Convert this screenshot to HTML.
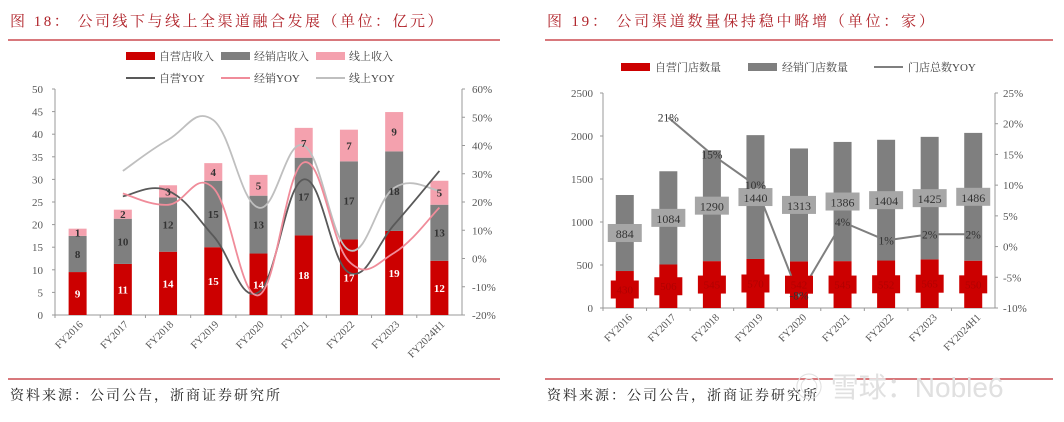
<!DOCTYPE html>
<html><head><meta charset="utf-8"><style>
body{margin:0;background:#fff;}
svg{display:block;font-family:"Liberation Serif","Noto Serif CJK SC",serif;}
</style></head><body>
<svg id="s" width="1064" height="422" viewBox="0 0 1064 422" xmlns="http://www.w3.org/2000/svg">
<text x="10" y="26" font-size="15" fill="#b0232a" letter-spacing="2.5">图 18：  公司线下与线上全渠道融合发展（单位：亿元）</text>
<line x1="8" y1="40" x2="500" y2="40" stroke="#c0272d" stroke-width="1.2"/>
<text x="547" y="26" font-size="15" fill="#b0232a" letter-spacing="2.8">图 19：  公司渠道数量保持稳中略增（单位：家）</text>
<line x1="545" y1="40" x2="1053" y2="40" stroke="#c0272d" stroke-width="1.2"/>
<line x1="8" y1="379" x2="500" y2="379" stroke="#c0272d" stroke-width="1.2"/>
<line x1="545" y1="379" x2="1053" y2="379" stroke="#c0272d" stroke-width="1.2"/>
<text x="10" y="400" font-size="14" fill="#222" letter-spacing="2">资料来源：公司公告，浙商证券研究所</text>
<text x="547" y="400" font-size="14" fill="#222" letter-spacing="2">资料来源：公司公告，浙商证券研究所</text>
<text x="795" y="397" font-size="28" fill="#e0e0e0" font-family="Liberation Sans, Noto Sans CJK SC, sans-serif">◎ 雪球：Noble6</text>
<g id="c1"></g>
<g id="c2"></g>
</svg>
<script>
// ---- chart 1 data ----
const cats1 = ["FY2016","FY2017","FY2018","FY2019","FY2020","FY2021","FY2022","FY2023","FY2024H1"];
const selfRev = [9.5,11.3,14,15,13.6,17.6,16.7,18.6,12];
const distRev = [8,10,12,14.7,12.8,17.2,17.3,17.6,12.4];
const onlineRev = [1.6,2,2.7,3.9,4.6,6.6,7,8.7,5.3];
const selfLbl = ["9","11","14","15","14","18","17","19","12"];
const distLbl = ["8","10","12","15","13","17","17","18","13"];
const onlineLbl = ["1","2","3","4","5","7","7","9","5"];
const selfYoy = [null,22,24,8,-12,28,-5,12,31];
const distYoy = [null,23,19,25,-13,34,-1,2,18];
const onlineYoy = [null,31,42,49,18,40,3,25,24];
const leftTicks1 = [0,5,10,15,20,25,30,35,40,45,50];
const rightTicks1 = [-20,-10,0,10,20,30,40,50,60];
// ---- chart 2 data ----
const cats2 = cats1;
const selfStores = [430,506,545,570,542,545,552,565,550];
const distStores = [884,1084,1290,1440,1313,1386,1404,1425,1486];
const storeYoy = [null,21,15,10,-8,4,1,2,2];
const leftTicks2 = [0,500,1000,1500,2000,2500];
const rightTicks2 = [-10,-5,0,5,10,15,20,25];

const NS="http://www.w3.org/2000/svg";
function mk(parent,tag,attrs,txt){const e=document.createElementNS(NS,tag);for(const k in attrs)e.setAttribute(k,attrs[k]);if(txt!=null)e.textContent=txt;parent.appendChild(e);return e;}
function smoothPath(pts){let d="M"+pts[0][0]+","+pts[0][1];for(let i=0;i<pts.length-1;i++){const p0=pts[i-1]||pts[i],p1=pts[i],p2=pts[i+1],p3=pts[i+2]||p2;const t=0.2;d+=" C"+(p1[0]+(p2[0]-p0[0])*t)+","+(p1[1]+(p2[1]-p0[1])*t)+" "+(p2[0]-(p3[0]-p1[0])*t)+","+(p2[1]-(p3[1]-p1[1])*t)+" "+p2[0]+","+p2[1];}return d;}

// ===== Chart 1 =====
(function(){
const g=document.getElementById('c1');
const x0=55,x1=462,yb=315,yt=89;
const yL=v=>yb-(v/50)*(yb-yt);
const yR=v=>yb-((v+20)/80)*(yb-yt);
const step=(x1-x0)/cats1.length;
const xc=i=>x0+step*(i+0.5);
const bw=18;
const ax=mk(g,'line',{x1:x0,y1:yt,x2:x0,y2:yb,stroke:'#999'});


const ax2=mk(g,'line',{x1:x1,y1:yt,x2:x1,y2:yb,stroke:'#999'});


const axb=mk(g,'line',{x1:x0,y1:yb,x2:x1,y2:yb,stroke:'#999'});


leftTicks1.forEach(v=>{const t=mk(g,'text',{x:x0-12,y:yL(v)+4,'font-size':11,fill:'#555','text-anchor':'end'},v);


mk(g,'line',{x1:x0-3,y1:yL(v),x2:x0,y2:yL(v),stroke:'#999'});});
rightTicks1.forEach(v=>{const t=mk(g,'text',{x:x1+10,y:yR(v)+4,'font-size':11,fill:'#555'},v+'%');


mk(g,'line',{x1:x1,y1:yR(v),x2:x1+3,y2:yR(v),stroke:'#999'});});
cats1.forEach((c,i)=>{
 mk(g,'line',{x1:x0+step*i,y1:yb,x2:x0+step*i,y2:yb+3,stroke:'#999'});
 const t=mk(g,'text',{x:xc(i)+6,y:yb+10,'font-size':10.5,fill:'#555','text-anchor':'end',transform:`rotate(-45 ${xc(i)+6} ${yb+10})`},c);
 
 
 const a=selfRev[i],b=distRev[i],o=onlineRev[i];
 const r1=mk(g,'rect',{x:xc(i)-bw/2,y:yL(a),width:bw,height:yb-yL(a),fill:'#cc0000'});
 
 
 const r2=mk(g,'rect',{x:xc(i)-bw/2,y:yL(a+b),width:bw,height:yL(a)-yL(a+b),fill:'#7f7f7f'});
 
 
 const r3=mk(g,'rect',{x:xc(i)-bw/2,y:yL(a+b+o),width:bw,height:yL(a+b)-yL(a+b+o),fill:'#f4a1ae'});
 
 
});
[[onlineYoy,'#bfbfbf','line-online-yoy'],[selfYoy,'#595959','line-self-yoy'],[distYoy,'#f08c9a','line-distributor-yoy']].forEach(([arr,col,nm])=>{
 const pts=[];arr.forEach((v,i)=>{if(v!=null)pts.push([xc(i),yR(v)]);});
 const p=mk(g,'path',{d:smoothPath(pts),fill:'none',stroke:col,'stroke-width':1.8});
 
 
});
cats1.forEach((c,i)=>{
 const a=selfRev[i],b=distRev[i],o=onlineRev[i];
 const l1=mk(g,'text',{x:xc(i),y:(yL(0)+yL(a))/2+4,'font-size':11,'font-weight':'bold',fill:'#fff','text-anchor':'middle'},selfLbl[i]);
 
 
 const l2=mk(g,'text',{x:xc(i),y:(yL(a)+yL(a+b))/2+4,'font-size':11,'font-weight':'bold',fill:'#333','text-anchor':'middle'},distLbl[i]);
 
 
 const l3=mk(g,'text',{x:xc(i),y:(yL(a+b)+yL(a+b+o))/2+4,'font-size':11,'font-weight':'bold',fill:'#333','text-anchor':'middle'},onlineLbl[i]);
 
 
});
const L=[[126,56,'rect','#cc0000','自营店收入'],[221,56,'rect','#7f7f7f','经销店收入'],[316,56,'rect','#f4a1ae','线上收入'],[126,78,'line','#595959','自营YOY'],[221,78,'line','#f08c9a','经销YOY'],[316,78,'line','#bfbfbf','线上YOY']];
L.forEach(([x,y,t,c,s])=>{
 const e=mk(g,'g',{});
 
 
 if(t==='rect')mk(e,'rect',{x:x,y:y-4,width:29,height:8,fill:c});else mk(e,'line',{x1:x,y1:y,x2:x+29,y2:y,stroke:c,'stroke-width':2});
 mk(e,'text',{x:x+33,y:y+4,'font-size':11,fill:'#444'},s);
});
})();

// ===== Chart 2 =====
(function(){
const g=document.getElementById('c2');
const x0=603,x1=995,yb=308,yt=93;
const yL=v=>yb-(v/2500)*(yb-yt);
const yR=v=>yb-((v+10)/35)*(yb-yt);
const step=(x1-x0)/cats2.length;
const xc=i=>x0+step*(i+0.5);
const bw=18;
const ax=mk(g,'line',{x1:x0,y1:yt,x2:x0,y2:yb,stroke:'#999'});


const ax2=mk(g,'line',{x1:x1,y1:yt,x2:x1,y2:yb,stroke:'#999'});


const axb=mk(g,'line',{x1:x0,y1:yb,x2:x1,y2:yb,stroke:'#999'});


leftTicks2.forEach(v=>{const t=mk(g,'text',{x:x0-10,y:yL(v)+4,'font-size':11,fill:'#555','text-anchor':'end'},v);


mk(g,'line',{x1:x0-3,y1:yL(v),x2:x0,y2:yL(v),stroke:'#999'});});
rightTicks2.forEach(v=>{const t=mk(g,'text',{x:x1+8,y:yR(v)+4,'font-size':11,fill:'#555'},v+'%');


mk(g,'line',{x1:x1,y1:yR(v),x2:x1+3,y2:yR(v),stroke:'#999'});});
cats2.forEach((c,i)=>{
 mk(g,'line',{x1:x0+step*i,y1:yb,x2:x0+step*i,y2:yb+3,stroke:'#999'});
 const t=mk(g,'text',{x:xc(i)+8,y:yb+10,'font-size':10.5,fill:'#555','text-anchor':'end',transform:`rotate(-45 ${xc(i)+8} ${yb+10})`},c);
 
 
 const a=selfStores[i],b=distStores[i];
 const r1=mk(g,'rect',{x:xc(i)-bw/2,y:yL(a),width:bw,height:yb-yL(a),fill:'#cc0000'});
 
 
 const r2=mk(g,'rect',{x:xc(i)-bw/2,y:yL(a+b),width:bw,height:yL(a)-yL(a+b),fill:'#7f7f7f'});
 
 
});
const pts=[];storeYoy.forEach((v,i)=>{if(v!=null)pts.push([xc(i),yR(v)]);});
const p=mk(g,'polyline',{points:pts.map(q=>q.join(',')).join(' '),fill:'none',stroke:'#7f7f7f','stroke-width':2});


cats2.forEach((c,i)=>{
 const a=selfStores[i],b=distStores[i];
 const ym=(yL(0)+yL(a))/2;
 const bx=mk(g,'rect',{x:xc(i)-14,y:ym-9,width:28,height:18,fill:'#cc0000'});
 
 
 const l1=mk(g,'text',{x:xc(i),y:ym+4,'font-size':11,fill:'#b00000','text-anchor':'middle'},a);
 
 
 const yd=(yL(a)+yL(a+b))/2;
 const bx2=mk(g,'rect',{x:xc(i)-17,y:yd-9,width:34,height:18,fill:'#a6a6a6'});
 
 
 const l2=mk(g,'text',{x:xc(i),y:yd+5,'font-size':12,fill:'#333','text-anchor':'middle'},b);
 
 
 if(storeYoy[i]!=null){
  const l3=mk(g,'text',{x:xc(i),y:yR(storeYoy[i])+4,'font-size':11.5,fill:'#333','text-anchor':'middle'},storeYoy[i]+'%');
  
  
 }
});
const L=[[621,67,'rect','#cc0000','自营门店数量'],[748,67,'rect','#7f7f7f','经销门店数量'],[874,67,'line','#7f7f7f','门店总数YOY']];
L.forEach(([x,y,t,c,s])=>{
 const e=mk(g,'g',{});
 
 
 if(t==='rect')mk(e,'rect',{x:x,y:y-4,width:29,height:8,fill:c});else mk(e,'line',{x1:x,y1:y,x2:x+29,y2:y,stroke:c,'stroke-width':2});
 mk(e,'text',{x:x+34,y:y+4,'font-size':11,fill:'#444'},s);
});
})();
</script>
</body></html>
